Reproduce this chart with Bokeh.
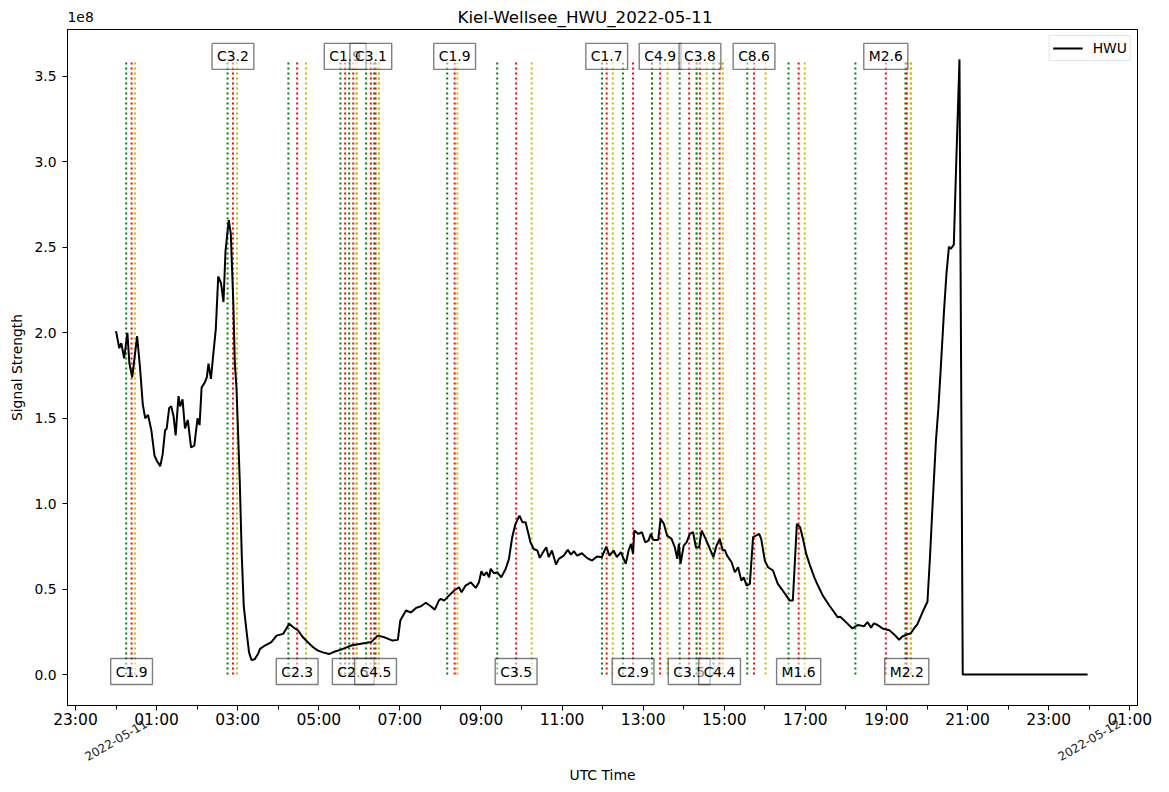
import math
from bokeh.plotting import figure
from bokeh.layouts import column
from bokeh.models import (Range1d, FixedTicker, PrintfTickFormatter, ColumnDataSource, Label,
                          LinearAxis)
from bokeh.core.properties import value
from bokeh.embed import file_html
from bokeh.resources import INLINE

TITLE = "Kiel-Wellsee_HWU_2022-05-11"
OFFSET_TEXT = "1e8"
DATE_LABELS = ["2022-05-11", "2022-05-12"]
DATE_TICKS = [0, 24]
SERIES_NAME = "HWU"
X_LABEL = "UTC Time"
Y_LABEL = "Signal Strength"

# time in hours after 2022-05-11 00:00 UTC
hours = [0.00, 0.08, 0.13, 0.20, 0.28, 0.33, 0.40, 0.46, 0.52, 0.59, 0.66, 0.72, 0.79, 0.87,
         0.95, 1.01, 1.09, 1.15, 1.21, 1.25, 1.31, 1.36, 1.42, 1.47, 1.54, 1.58, 1.64, 1.70,
         1.77, 1.85, 1.93, 2.01, 2.06, 2.11, 2.19, 2.24, 2.28, 2.34, 2.40, 2.46, 2.52, 2.59,
         2.65, 2.70, 2.78, 2.83, 2.89, 2.93, 2.97, 3.01, 3.05, 3.10, 3.15, 3.22, 3.28, 3.34,
         3.42, 3.50, 3.55, 3.67, 3.83, 3.96, 4.12, 4.27, 4.37, 4.49, 4.61, 4.73, 4.86, 4.98,
         5.10, 5.25, 5.40, 5.55, 5.80, 6.04, 6.29, 6.45, 6.62, 6.82, 6.95, 7.01, 7.15, 7.27,
         7.40, 7.52, 7.64, 7.76, 7.86, 7.96, 8.01, 8.09, 8.21, 8.34, 8.46, 8.52, 8.62, 8.75,
         8.87, 8.95, 9.01, 9.07, 9.14, 9.20, 9.24, 9.32, 9.40, 9.50, 9.61, 9.69, 9.77, 9.85,
         9.95, 10.02, 10.10, 10.16, 10.22, 10.30, 10.39, 10.45, 10.53, 10.61, 10.67, 10.75,
         10.85, 10.92, 11.04, 11.14, 11.22, 11.29, 11.37, 11.49, 11.61, 11.74, 11.86, 11.98,
         12.09, 12.17, 12.27, 12.35, 12.45, 12.57, 12.64, 12.70, 12.75, 12.78, 12.88, 12.97,
         13.05, 13.13, 13.19, 13.25, 13.37, 13.43, 13.51, 13.59, 13.70, 13.78, 13.84, 13.88,
         13.92, 14.00, 14.07, 14.15, 14.23, 14.30, 14.38, 14.44, 14.52, 14.63, 14.73, 14.81,
         14.89, 14.96, 15.01, 15.07, 15.18, 15.26, 15.34, 15.42, 15.48, 15.55, 15.63, 15.71,
         15.79, 15.86, 15.91, 16.00, 16.08, 16.20, 16.32, 16.41, 16.53, 16.61, 16.69, 16.79,
         16.87, 16.95, 17.02, 17.10, 17.22, 17.31, 17.43, 17.59, 17.80, 17.86, 18.00, 18.16,
         18.29, 18.45, 18.53, 18.62, 18.69, 18.78, 18.90, 19.07, 19.19, 19.31, 19.39, 19.52,
         19.60, 19.68, 19.76, 19.89, 20.01, 20.07, 20.13, 20.22, 20.28, 20.34, 20.42, 20.48,
         20.54, 20.59, 20.66, 20.72, 20.80, 20.88, 23.96]

# signal strength in units of 1e8
signal_1e8 = [2.01, 1.91, 1.94, 1.85, 2.00, 1.82, 1.74, 1.86, 1.98, 1.80, 1.58, 1.50, 1.52, 1.43,
              1.28, 1.25, 1.22, 1.29, 1.43, 1.44, 1.56, 1.57, 1.51, 1.40, 1.63, 1.57, 1.61, 1.44,
              1.49, 1.33, 1.34, 1.50, 1.46, 1.68, 1.71, 1.74, 1.82, 1.73, 1.88, 2.02, 2.33, 2.29,
              2.18, 2.48, 2.66, 2.58, 2.19, 1.82, 1.68, 1.41, 1.14, 0.70, 0.40, 0.25, 0.13, 0.085,
              0.09, 0.12, 0.15, 0.17, 0.19, 0.228, 0.238, 0.297, 0.277, 0.258, 0.218, 0.189, 0.16, 0.14,
              0.13, 0.12, 0.135, 0.146, 0.17, 0.18, 0.19, 0.228, 0.218, 0.199, 0.203, 0.316, 0.375, 0.363,
              0.39, 0.40, 0.42, 0.40, 0.38, 0.433, 0.443, 0.433, 0.462, 0.492, 0.511, 0.482, 0.521, 0.54,
              0.507, 0.54, 0.605, 0.579, 0.599, 0.569, 0.619, 0.593, 0.599, 0.569, 0.619, 0.677, 0.804, 0.882,
              0.93, 0.892, 0.892, 0.833, 0.774, 0.735, 0.726, 0.683, 0.716, 0.745, 0.687, 0.726,
              0.644, 0.677, 0.696, 0.73, 0.702, 0.722, 0.696, 0.71, 0.683, 0.667, 0.691, 0.687,
              0.749, 0.696, 0.726, 0.687, 0.716, 0.648, 0.726, 0.765, 0.706, 0.843, 0.823, 0.833,
              0.774, 0.784, 0.823, 0.788, 0.788, 0.911, 0.882, 0.813, 0.794, 0.745, 0.677, 0.765,
              0.648, 0.755, 0.774, 0.823, 0.833, 0.745, 0.745, 0.843, 0.804, 0.745, 0.687, 0.755,
              0.794, 0.726, 0.73, 0.696, 0.657, 0.599, 0.628, 0.55, 0.569, 0.521, 0.531, 0.804,
              0.814, 0.823, 0.794, 0.667, 0.628, 0.609, 0.531, 0.502, 0.462, 0.433, 0.433, 0.882,
              0.862, 0.784, 0.706, 0.648, 0.569, 0.521, 0.462, 0.404, 0.335, 0.338, 0.307, 0.27,
              0.29, 0.283, 0.307, 0.275, 0.30, 0.29, 0.27, 0.259, 0.235, 0.204, 0.223, 0.235,
              0.242, 0.27, 0.294, 0.366, 0.426, 0.676, 0.963, 1.37, 1.56, 1.80, 2.134, 2.349,
              2.504, 2.492, 2.516, 2.995, 3.60, 0.0, 0.0]

# solar flares (GOES class, start / peak / end times, UTC)
flare_class = ["C1.9", "C3.2", "C2.3", "C1.9", "C2.5", "C3.1", "C4.5", "C1.9", "C3.5", "C1.7",
               "C2.9", "C4.9", "C3.5", "C3.8", "C4.4", "C8.6", "M1.6", "M2.6", "M2.2"]
flare_start = ["00:15", "02:45", "04:15", "05:32", "05:45", "06:10", "06:22", "08:10", "09:24", "11:59",
               "12:30", "13:13", "13:54", "14:19", "14:44", "15:34", "16:35", "18:14", "19:28"]
flare_peak = ["00:23", "02:53", "04:28", "05:39", "05:51", "06:17", "06:24", "08:21", "09:52", "12:06",
              "12:45", "13:25", "14:08", "14:24", "14:53", "15:44", "16:50", "18:59", "19:30"]
flare_end = ["00:28", "02:59", "04:41", "05:56", "05:56", "06:29", "06:29", "08:25", "10:15", "12:15",
             "13:13", "13:36", "14:19", "14:34", "14:58", "16:01", "16:59", "19:36", "19:36"]


def to_h(s):
    hh, mm = s.split(":")
    return int(hh) + int(mm) / 60.0


top = max(signal_1e8)

seg_x, seg_c = [], []
for s, pk, e in zip(flare_start, flare_peak, flare_end):
    seg_x += [to_h(s), to_h(pk), to_h(e)]
    seg_c += ["#008000", "#ff0000", "#bfbf00"]
seg_src = ColumnDataSource(dict(x=seg_x, y0=[0.0] * len(seg_x), y1=[top] * len(seg_x), c=seg_c))

FONT = "DejaVu Sans"
W = 1169
FRAME_L, FRAME_R = 67, 1137          # page pixels of the plot frame
HEAD_H = 28
DATE_LABEL_SHIFT_H = 0.74            # rotated labels end at their tick; shift so they centre on midnight

# ---------- header strip: suptitle and the y offset text (frame aligned with the plot's) ----------
head = figure(width=W, height=HEAD_H, x_range=Range1d(FRAME_L, FRAME_R), y_range=Range1d(HEAD_H, 0),
              output_backend="svg", toolbar_location=None, title=None,
              min_border=0, x_axis_location=None, y_axis_location=None)
head.outline_line_color = None
head.xgrid.visible = False
head.ygrid.visible = False
head.text(x=[W / 2], y=[16], text=[TITLE], text_align="center", text_baseline="middle",
          text_font=value(FONT), text_font_size="16.7px", text_color="black")
head.text(x=[FRAME_L], y=[16.5], text=[OFFSET_TEXT], text_align="left", text_baseline="middle",
          text_font=value(FONT), text_font_size="13.9px", text_color="black")

# ---------- main plot ----------
p = figure(width=W, height=792 - HEAD_H, title=None,
           x_range=Range1d(-1.197, 25.19), y_range=Range1d(-0.181, 3.775),
           output_backend="svg", toolbar_location=None,
           min_border_left=FRAME_L, min_border_right=W - FRAME_R, min_border_top=29 - HEAD_H,
           min_border_bottom=87)
p.xgrid.visible = False
p.ygrid.visible = False
p.outline_line_color = "black"
p.outline_line_alpha = 1.0
p.outline_line_width = 1

p.segment(x0="x", y0="y0", x1="x", y1="y1", source=seg_src, line_color="c",
          line_width=2, line_dash="2 3")
p.line(hours, signal_1e8, line_color="black", line_width=2, legend_label=SERIES_NAME)

# flare class labels, alternating bottom / top, centred on the peak time
for i, (cls, pk) in enumerate(zip(flare_class, flare_peak)):
    p.add_layout(Label(x=to_h(pk), y=(0.0 if i % 2 == 0 else top), y_offset=3, text=cls,
                       text_align="center", text_baseline="middle",
                       text_font=FONT, text_font_size="13.9px", text_color="black",
                       background_fill_color="white", background_fill_alpha=0.5,
                       border_line_color="black", border_line_alpha=0.5, border_line_width=1.4,
                       padding=5))

# x axis: odd hours major, even hours minor
xax = p.below[0]
major = list(range(-1, 26, 2))
minor = list(range(0, 25, 2))
xax.ticker = FixedTicker(ticks=major, minor_ticks=minor)
xax.major_label_overrides = {h: "%02d:00" % (h % 24) for h in major}
xax.major_label_text_font = FONT
xax.major_label_text_font_size = "15.5px"
xax.major_label_text_color = "black"
xax.major_label_standoff = 0

yax = p.left[0]
yax.ticker = FixedTicker(ticks=[0, 0.5, 1.0, 1.5, 2.0, 2.5, 3.0, 3.5])
yax.formatter = PrintfTickFormatter(format="%.1f")
yax.major_label_text_font = FONT
yax.major_label_text_font_size = "13.9px"
yax.major_label_text_color = "black"
yax.major_label_standoff = 6
yax.axis_label = Y_LABEL
yax.axis_label_text_font = FONT
yax.axis_label_text_font_size = "13.9px"
yax.axis_label_text_font_style = "normal"
yax.axis_label_text_color = "black"
yax.axis_label_standoff = 6

for ax in (xax, yax):
    ax.axis_line_color = "black"
    ax.axis_line_width = 1
    ax.major_tick_line_color = "black"
    ax.minor_tick_line_color = "black" if ax is xax else None
    ax.major_tick_out = 5
    ax.major_tick_in = 0
    ax.minor_tick_out = 4
    ax.minor_tick_in = 0

# second axis under the hours: the dates at midnight, rotated, plus the axis title
date_pos = [t + DATE_LABEL_SHIFT_H for t in DATE_TICKS]
date_ax = LinearAxis(ticker=FixedTicker(ticks=date_pos),
                     major_label_overrides=dict(zip(date_pos, DATE_LABELS)),
                     major_label_orientation=math.pi / 6,
                     major_label_text_font=FONT, major_label_text_font_size="12px",
                     major_label_text_color="#222222", major_label_standoff=-9,
                     axis_line_color=None, major_tick_line_color=None, minor_tick_line_color=None,
                     major_tick_out=0, major_tick_in=0,
                     axis_label=X_LABEL, axis_label_text_font=FONT,
                     axis_label_text_font_size="13.9px", axis_label_text_font_style="normal",
                     axis_label_text_color="black", axis_label_standoff=-1)
p.add_layout(date_ax, "below")

p.legend.location = "top_right"
p.legend.margin = 6
p.legend.padding = 3
p.legend.spacing = 0
p.legend.glyph_width = 30
p.legend.glyph_height = 18
p.legend.label_height = 18
p.legend.label_standoff = 10
p.legend.label_text_font = FONT
p.legend.label_text_font_size = "13.9px"
p.legend.label_text_color = "black"
p.legend.border_line_color = "#cccccc"
p.legend.border_line_width = 1
p.legend.background_fill_alpha = 0.8

layout = column(head, p, spacing=0)
open("out.html", "w").write(file_html(layout, INLINE))
